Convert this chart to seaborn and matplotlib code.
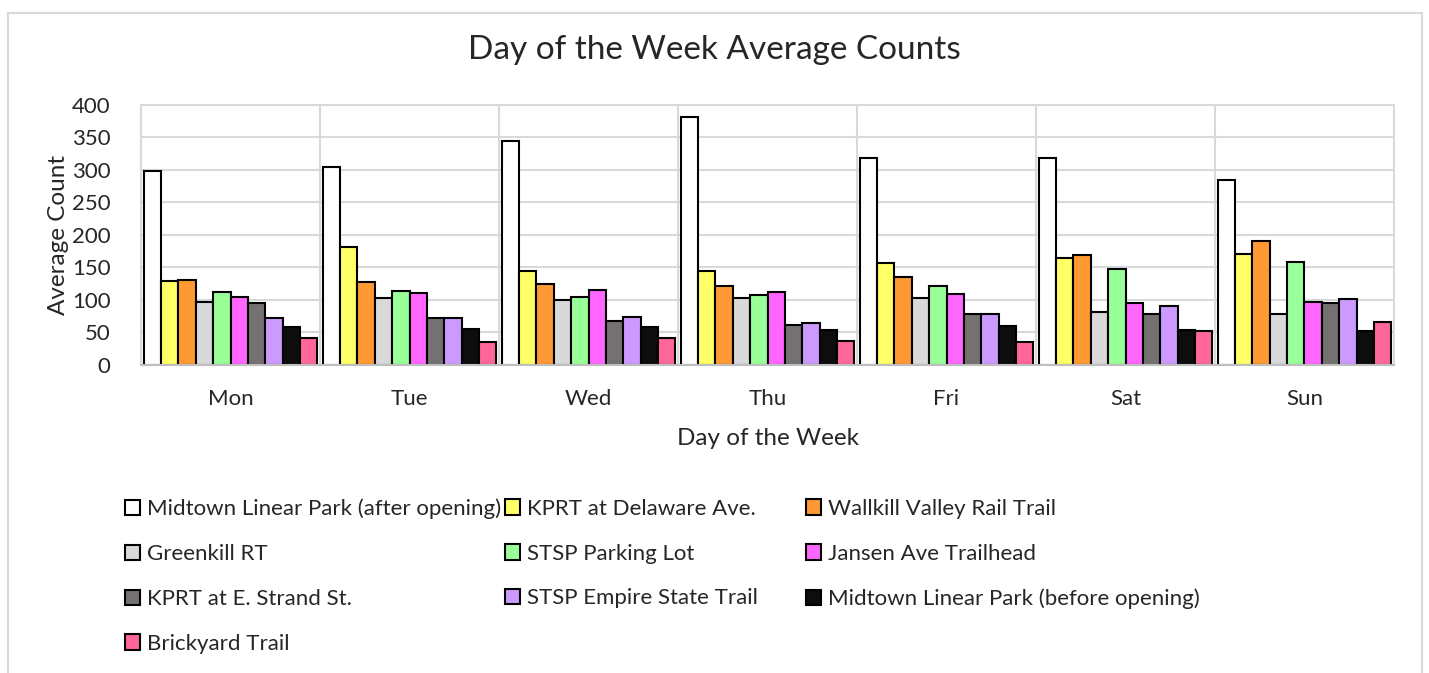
import matplotlib.pyplot as plt
import matplotlib.patches as mpatches
import seaborn as sns
import pandas as pd

# ---------------------------------------------------
# DATA
# ---------------------------------------------------

days = ["Mon", "Tue", "Wed", "Thu", "Fri", "Sat", "Sun"]

sites = [
    "Midtown Linear Park (after opening)",
    "KPRT at Delaware Ave.",
    "Wallkill Valley Rail Trail",
    "Greenkill RT",
    "STSP Parking Lot",
    "Jansen Ave Trailhead",
    "KPRT at E. Strand St.",
    "STSP Empire State Trail",
    "Midtown Linear Park (before opening)",
    "Brickyard Trail",
]

midtown_after = [299, 305, 344, 382, 319, 319, 285]
kprt_delaware = [129, 181, 145, 144, 157, 164, 170]
wallkill = [131, 127, 124, 122, 136, 169, 191]
greenkill = [97, 103, 100, 103, 103, 81, 79]
stsp_parking = [113, 114, 104, 108, 122, 147, 159]
jansen = [104, 110, 115, 113, 109, 96, 97]
kprt_strand = [96, 72, 68, 62, 78, 79, 96]
stsp_empire = [72, 73, 74, 64, 79, 91, 101]
midtown_before = [59, 56, 58, 54, 60, 54, 53]
brickyard = [42, 35, 42, 37, 36, 53, 66]

colors = ["#FFFFFF", "#FFFF66", "#FF9933", "#D9D9D9", "#99FF99",
          "#FF66FF", "#767171", "#CC99FF", "#0D0D0D", "#FF6699"]

series = [midtown_after, kprt_delaware, wallkill, greenkill, stsp_parking,
          jansen, kprt_strand, stsp_empire, midtown_before, brickyard]

rows = []
for site, values in zip(sites, series):
    for day, v in zip(days, values):
        rows.append({"Day": day, "Site": site, "Count": v})
df = pd.DataFrame(rows)

# ---------------------------------------------------
# STYLE
# ---------------------------------------------------

sns.set_style("white")
plt.rcParams["font.family"] = ["Lato", "DejaVu Sans"]
grid_color = "#D9D9D9"

fig = plt.figure(figsize=(14.29, 6.73), dpi=100)
ax = fig.add_axes([0.0987, 0.4577, 0.8768, 0.3863])

sns.barplot(
    data=df,
    x="Day",
    y="Count",
    hue="Site",
    hue_order=sites,
    order=days,
    palette=colors,
    saturation=1,
    edgecolor="black",
    linewidth=1.5,
    width=0.97,
    gap=0,
    legend=False,
    ax=ax,
)

ax.set_ylim(0, 400)
ax.set_xlim(-0.5, 6.5)
ax.set_yticks(range(0, 401, 50))
ax.yaxis.grid(True, color=grid_color, linewidth=1.5)
ax.set_xticks([i - 0.5 for i in range(8)], minor=True)
ax.xaxis.grid(True, which="minor", color=grid_color, linewidth=1.5)
ax.set_axisbelow(True)
ax.tick_params(axis="x", which="major", length=0, labelsize=16, pad=17)
ax.tick_params(axis="y", which="major", length=0, labelsize=16, pad=22)
ax.tick_params(axis="x", which="minor", length=0)
for s in ax.spines.values():
    s.set_color(grid_color)
    s.set_linewidth(1.5)
ax.spines["bottom"].set_color("#BFBFBF")

ax.set_xlabel("Day of the Week", fontsize=17.5, labelpad=14)
ax.set_ylabel("Average Count", fontsize=17.5)
ax.yaxis.set_label_coords(-0.0575, 0.5)

fig.text(0.5, 0.925, "Day of the Week Average Counts", ha="center",
         va="center", fontsize=24)

# ---------------------------------------------------
# LEGEND: three columns laid out row by row
# ---------------------------------------------------

handles = [mpatches.Patch(facecolor=c, edgecolor="black", linewidth=1.5)
           for c in colors]
col_x = [127, 507, 808]
for col in range(3):
    idx = list(range(col, len(sites), 3))
    fig.legend(
        [handles[i] for i in idx],
        [sites[i] for i in idx],
        loc="upper left",
        bbox_to_anchor=(col_x[col] / 1429 - 0.0015, 0.259),
        frameon=False,
        fontsize=16,
        handlelength=0.7,
        handleheight=0.7,
        handletextpad=0.3,
        labelspacing=1.12,
        borderpad=0,
        borderaxespad=0,
    )

# outer chart border
fig.add_artist(mpatches.Rectangle((8 / 1429, -0.02), 1414 / 1429, 1.0,
                                  transform=fig.transFigure, fill=False,
                                  edgecolor=grid_color, linewidth=1.5))

plt.savefig("out.png", dpi=100)
plt.close()
